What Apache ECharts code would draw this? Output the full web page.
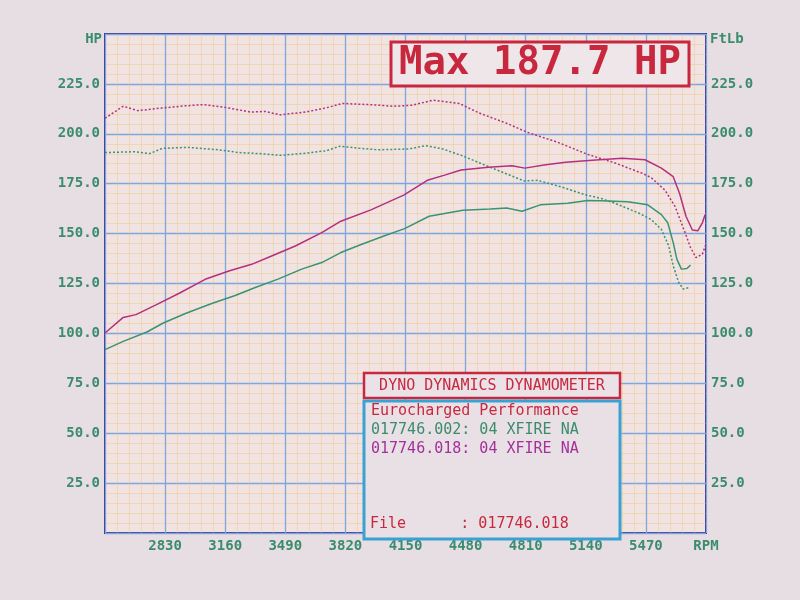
<!DOCTYPE html>
<html><head><meta charset="utf-8">
<script src="https://cdn.jsdelivr.net/npm/echarts@6/dist/echarts.min.js"></script>
<style>html,body{margin:0;padding:0;background:#e7dee4;}#c{width:800px;height:600px;}</style>
</head><body><div id="c"></div>
<script>
// RPM tick labels: 2830 ... 5470, then "RPM"
const rpmTicks = [2500, 2830, 3160, 3490, 3820, 4150, 4480, 4810, 5140, 5470, 5800];
const yTicks = [25, 50, 75, 100, 125, 150, 175, 200, 225];

// Torque, run 017746.018 (magenta dotted) ftlb
const tq018Rpm = [2500,2600,2680,2810,2940,3040,3155,3300,3380,3460,3600,3710,3805,3955,4085,4185,4300,4445,4555,4705,4820,4985,5150,5300,5450,5500,5575,5630,5685,5715,5745,5780,5800];
const tq018 = [207.8,213.8,211.6,212.9,214,214.6,213.3,210.9,211.2,209.5,210.9,212.9,215.2,214.6,213.8,214.3,216.8,215.2,210.4,205.3,200.7,195.8,189.7,185.4,180.2,178,171.7,163.6,150.5,143,138,139.7,144.7];

// Torque, run 017746.002 (green dotted) ftlb
const tq002Rpm = [2500,2660,2745,2815,2955,3120,3235,3345,3465,3605,3715,3790,3900,4000,4170,4260,4355,4465,4615,4800,4875,5005,5135,5225,5300,5430,5500,5555,5595,5620,5650,5675,5710];
const tq002 = [190.6,191,190.1,192.7,193.2,192,190.6,190.1,189.2,190.3,191.5,193.8,192.7,192,192.4,194.1,192.4,188.9,183.2,176.4,176.7,173.4,169.5,167.6,165.2,160.3,157,152.1,143.9,133.9,125.5,122.2,123];

// Power, run 017746.002 (green solid) hp
const hp002Rpm = [2500,2600,2730,2820,2945,3090,3215,3325,3450,3580,3690,3795,3910,4035,4145,4280,4465,4615,4705,4790,4890,5040,5150,5220,5370,5480,5555,5590,5620,5640,5665,5695,5715];
const hp002 = [91.9,96,100.7,105.2,110.1,115.1,119,123,127.2,132.2,135.5,140.5,144.7,148.9,152.5,158.7,161.7,162.3,162.8,161.2,164.4,165.2,166.6,166.5,166,164.4,159.5,155.4,145.5,137.2,132.2,132.5,134.2];

// Power, run 017746.018 (magenta solid) hp
const hp018Rpm = [2500,2600,2670,2780,2905,3050,3180,3305,3415,3545,3690,3795,3960,4140,4270,4365,4455,4605,4735,4805,4920,5030,5175,5340,5465,5555,5620,5655,5690,5725,5755,5780,5795];
const hp018 = [100.2,108,109.4,114.3,120,127.1,131.3,134.6,138.8,143.8,150.5,156.2,161.9,169.3,176.7,179.3,181.9,183.3,184,182.8,184.5,185.8,186.8,187.7,187,182.8,178.5,170.1,158.7,151.8,151.4,155.4,159.5];

const pair = (xs, ys) => xs.map((x, i) => [x, ys[i]]);

const MONO = '"DejaVu Sans Mono", "Liberation Mono", monospace';
const GREEN = '#3b8c6c';
const RED = '#c8283e';
const MAG = '#b52f80';
const GRN = '#3a9372';
const MAJOR = '#7fa5da';

const chart = echarts.init(document.getElementById('c'));
const yAxisCommon = {
  type: 'value', min: 0, max: 250, interval: 25,
  axisLine: {show: false}, axisTick: {show: false},
  axisLabel: {color: GREEN, fontFamily: MONO, fontWeight: 'bold', fontSize: 14, margin: 5,
    formatter: v => yTicks.includes(v) ? v.toFixed(1) : ''},
  splitLine: {show: true, lineStyle: {color: MAJOR, width: 1.3}},
  minorTick: {show: false, splitNumber: 5},
  minorSplitLine: {show: true, lineStyle: {color: '#eec27a', width: 1, opacity: 0.4}},
  nameLocation: 'end', nameGap: -12,
};
chart.setOption({
  backgroundColor: '#e7dee4',
  animation: false,
  grid: {left: 105, right: 94, top: 34, bottom: 67, show: true, backgroundColor: '#f0e3e2',
    borderColor: '#3b3592', borderWidth: 2},
  xAxis: {
    type: 'value', min: rpmTicks[0], max: rpmTicks[rpmTicks.length - 1], interval: 330,
    axisLine: {show: false}, axisTick: {show: false},
    axisLabel: {color: GREEN, fontFamily: MONO, fontWeight: 'bold', fontSize: 14, margin: 6,
      formatter: v => v === rpmTicks[0] ? '' : (v === rpmTicks[rpmTicks.length - 1] ? 'RPM' : String(v))},
    splitLine: {show: true, lineStyle: {color: MAJOR, width: 1.3}},
    minorTick: {show: false, splitNumber: 5},
    minorSplitLine: {show: true, lineStyle: {color: '#eec27a', width: 1, opacity: 0.4}},
  },
  yAxis: [
    Object.assign({}, yAxisCommon, {position: 'left', name: 'HP',
      nameTextStyle: {color: GREEN, fontFamily: MONO, fontWeight: 'bold', fontSize: 14, align: 'right', padding: [0, 3, 0, 0]}}),
    Object.assign({}, yAxisCommon, {position: 'right', name: 'FtLb',
      splitLine: {show: false}, minorSplitLine: {show: false},
      nameTextStyle: {color: GREEN, fontFamily: MONO, fontWeight: 'bold', fontSize: 14, align: 'left', padding: [0, 0, 0, 4]}}),
  ],
  series: [
    {name: '017746.002 FtLb', type: 'line', yAxisIndex: 1, data: pair(tq002Rpm, tq002), showSymbol: false,
      lineStyle: {color: GRN, width: 1.5, type: [2, 2]}},
    {name: '017746.018 FtLb', type: 'line', yAxisIndex: 1, data: pair(tq018Rpm, tq018), showSymbol: false,
      lineStyle: {color: MAG, width: 1.5, type: [2, 2]}},
    {name: '017746.002 HP', type: 'line', yAxisIndex: 0, data: pair(hp002Rpm, hp002), showSymbol: false,
      lineStyle: {color: GRN, width: 1.5}},
    {name: '017746.018 HP', type: 'line', yAxisIndex: 0, data: pair(hp018Rpm, hp018), showSymbol: false,
      lineStyle: {color: MAG, width: 1.5}},
  ],
  graphic: [
    {type: 'rect', z: 100, shape: {x: 391, y: 42, width: 298, height: 44},
      style: {fill: '#efe6ea', stroke: RED, lineWidth: 3}},
    {type: 'text', z: 101, x: 540, y: 64, style: {text: 'Max 187.7 HP', fill: RED,
      font: 'bold 39px ' + MONO, textAlign: 'center', textVerticalAlign: 'middle'}},
    {type: 'rect', z: 100, shape: {x: 364, y: 373, width: 256, height: 25},
      style: {fill: '#ebe2e7', stroke: RED, lineWidth: 2.5}},
    {type: 'text', z: 101, x: 492, y: 386, style: {text: 'DYNO DYNAMICS DYNAMOMETER', fill: RED,
      font: '15px ' + MONO, textAlign: 'center', textVerticalAlign: 'middle'}},
    {type: 'rect', z: 100, shape: {x: 364, y: 401, width: 256, height: 138},
      style: {fill: '#e9e0e6', stroke: '#3aa2d2', lineWidth: 3}},
    {type: 'text', z: 101, x: 371, y: 411, style: {text: 'Eurocharged Performance', fill: RED,
      font: '15px ' + MONO, textVerticalAlign: 'middle'}},
    {type: 'text', z: 101, x: 371, y: 430, style: {text: '017746.002: 04 XFIRE NA', fill: GREEN,
      font: '15px ' + MONO, textVerticalAlign: 'middle'}},
    {type: 'text', z: 101, x: 371, y: 449, style: {text: '017746.018: 04 XFIRE NA', fill: '#a4309a',
      font: '15px ' + MONO, textVerticalAlign: 'middle'}},
    {type: 'text', z: 101, x: 370, y: 524, style: {text: 'File      : 017746.018', fill: RED,
      font: '15px ' + MONO, textVerticalAlign: 'middle'}},
  ]
});
</script></body></html>
